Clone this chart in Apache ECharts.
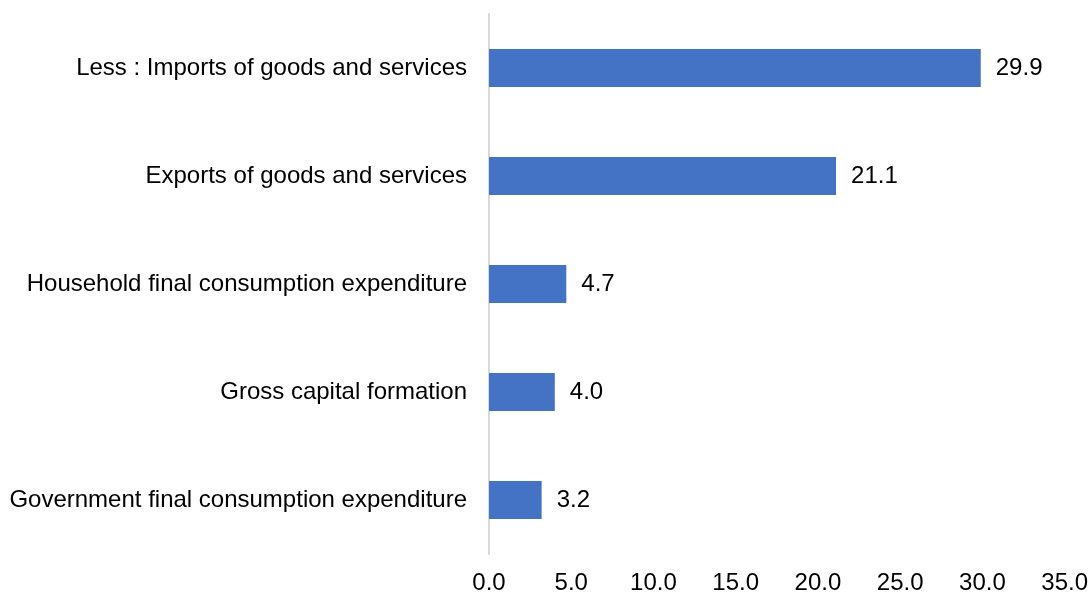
<!DOCTYPE html>
<html>
<head>
<meta charset="utf-8">
<script src="https://cdn.jsdelivr.net/npm/echarts@6/dist/echarts.min.js"></script>
<style>html,body{margin:0;padding:0;background:#fff}#c{width:1091px;height:595px}</style>
</head>
<body>
<div id="c"></div>
<script>
var categories = [
  "Government final consumption expenditure",
  "Gross capital formation",
  "Household final consumption expenditure",
  "Exports of goods and services",
  "Less : Imports of goods and services"
];
var values = [3.2, 4.0, 4.7, 21.1, 29.9];
var xTicks = { min: 0, max: 35, interval: 5 };

var chart = echarts.init(document.getElementById('c'));
chart.setOption({
  animation: false,
  grid: { left: 489, right: 25, top: 14, bottom: 39, containLabel: false },
  xAxis: {
    type: 'value', min: xTicks.min, max: xTicks.max, interval: xTicks.interval,
    axisLine: { show: false }, axisTick: { show: false }, splitLine: { show: false },
    axisLabel: { fontFamily: 'Liberation Sans', fontSize: 24, color: '#000', margin: 17,
      formatter: function (v) { return v.toFixed(1); } }
  },
  yAxis: {
    type: 'category', data: categories,
    axisLine: { show: true, lineStyle: { color: '#d9d9d9', width: 2 } },
    axisTick: { show: false },
    axisLabel: { fontFamily: 'Liberation Sans', fontSize: 24, color: '#000', margin: 22 }
  },
  series: [{
    type: 'bar', data: values, barWidth: 38,
    itemStyle: { color: '#4472c4' },
    label: { show: true, position: 'right', distance: 15, fontFamily: 'Liberation Sans', fontSize: 24, color: '#000',
      formatter: function (p) { return p.value.toFixed(1); } }
  }]
});
</script>
</body>
</html>
